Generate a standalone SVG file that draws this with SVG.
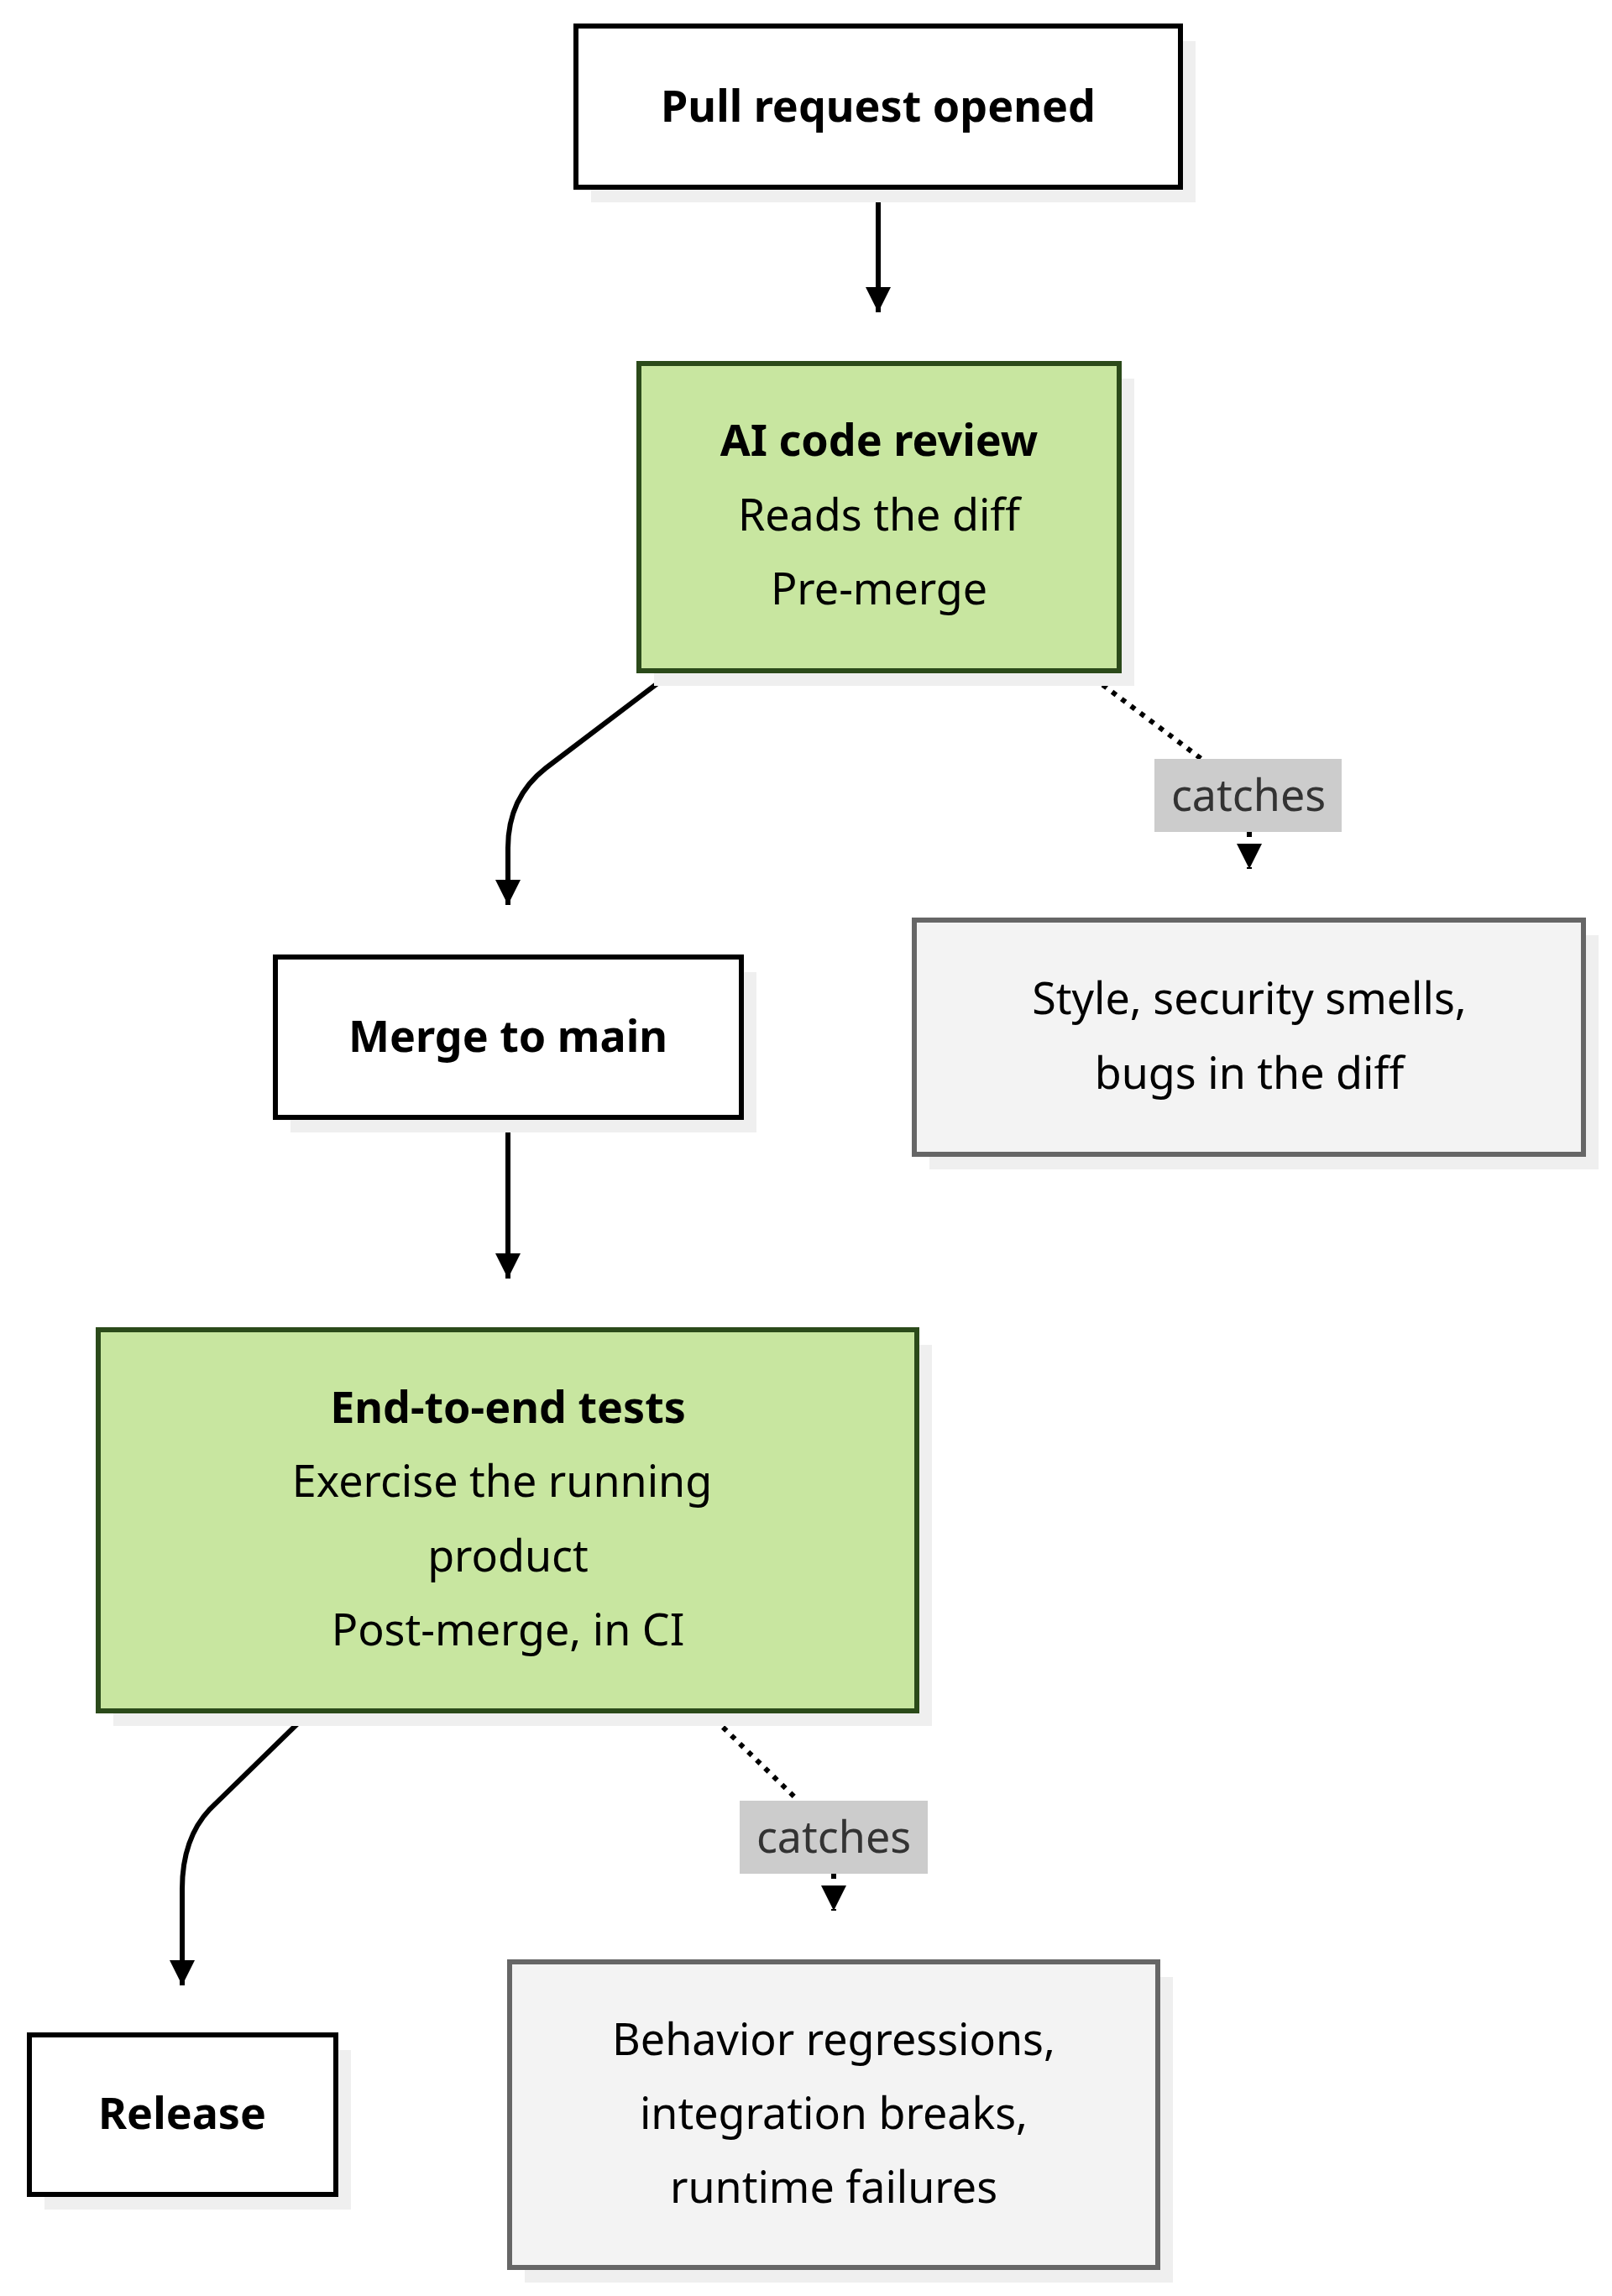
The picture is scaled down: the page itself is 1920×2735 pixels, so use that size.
<svg xmlns="http://www.w3.org/2000/svg" width="1920" height="2735" viewBox="0 0 1920 2735">
<style>
.sh{fill:#efefef}
.w{fill:#fff;stroke:#000;stroke-width:6}
.g{fill:#c8e6a0;stroke:#2b4a1a;stroke-width:6}
.n{fill:#f3f3f3;stroke:#666;stroke-width:6}
text{font-family:"Noto Sans","DejaVu Sans",sans-serif;font-size:52px;text-anchor:middle;fill:#000}
.b{font-weight:bold}
.lbl{fill:#333}
.c{fill:none;stroke:#000;stroke-width:6}
.d{stroke-dasharray:6 8}
</style>
<defs>
<marker id="a" viewBox="0 0 10 10" refX="10" refY="5" markerWidth="9" markerHeight="9" markerUnits="userSpaceOnUse" orient="auto"><path d="M0,0L10,5L0,10z"/></marker>
<marker id="ah" viewBox="0 0 10 10" refX="10" refY="5" markerWidth="5.5" markerHeight="5" orient="auto"><path d="M0,0L10,5L0,10z"/></marker>
</defs>
<g id="connectors">
<path class="c" d="M1046,223V372" marker-end="url(#ah)"/>
<path class="c" d="M803,799L650,915Q605,950 605,1010V1078" marker-end="url(#ah)"/>
<path class="c" d="M605,1331V1523" marker-end="url(#ah)"/>
<path class="c" d="M370,2038L250,2155Q217,2190 217,2250V2365" marker-end="url(#ah)"/>
<path class="c d" d="M1291,799L1431,904"/>
<path class="c d" d="M1488,991V1035" marker-end="url(#ah)"/>
<path class="c d" d="M841,2038L951,2145"/>
<path class="c d" d="M993,2232V2276" marker-end="url(#ah)"/>
<rect x="1375" y="904" width="223" height="87" fill="#cccccc"/>
<text class="lbl" x="1487" y="966">catches</text>
<rect x="881" y="2145" width="224" height="87" fill="#cccccc"/>
<text class="lbl" x="993" y="2207">catches</text>
</g>
<g id="pr"><rect class="sh" x="704" y="49" width="720" height="192"/><rect class="w" x="686" y="31" width="720" height="192"/><text class="b" x="1046" y="145">Pull request opened</text></g>
<g id="ai"><rect class="sh" x="779" y="451" width="572" height="366"/><rect class="g" x="761" y="433" width="572" height="366"/><text class="b" x="1047" y="543">AI code review</text><text x="1047" y="632">Reads the diff</text><text x="1047" y="720">Pre-merge</text></g>
<g id="merge"><rect class="sh" x="346" y="1158" width="555" height="191"/><rect class="w" x="328" y="1140" width="555" height="191"/><text class="b" x="605" y="1253">Merge to main</text></g>
<g id="style"><rect class="sh" x="1107" y="1114" width="797" height="279"/><rect class="n" x="1089" y="1096" width="797" height="279"/><text x="1488" y="1208">Style, security smells,</text><text x="1488" y="1297">bugs in the diff</text></g>
<g id="e2e"><rect class="sh" x="135" y="1602" width="975" height="454"/><rect class="w g" x="117" y="1584" width="975" height="454"/><text class="b" x="605" y="1695">End-to-end tests</text><text x="598" y="1783">Exercise the running</text><text x="605" y="1872">product</text><text x="605" y="1960">Post-merge, in CI</text></g>
<g id="release"><rect class="sh" x="53" y="2442" width="365" height="190"/><rect class="w" x="35" y="2424" width="365" height="190"/><text class="b" x="217" y="2536">Release</text></g>
<g id="behavior"><rect class="sh" x="625" y="2355" width="772" height="364"/><rect class="n" x="607" y="2337" width="772" height="364"/><text x="993" y="2448">Behavior regressions,</text><text x="993" y="2536">integration breaks,</text><text x="993" y="2624">runtime failures</text></g>
</svg>
